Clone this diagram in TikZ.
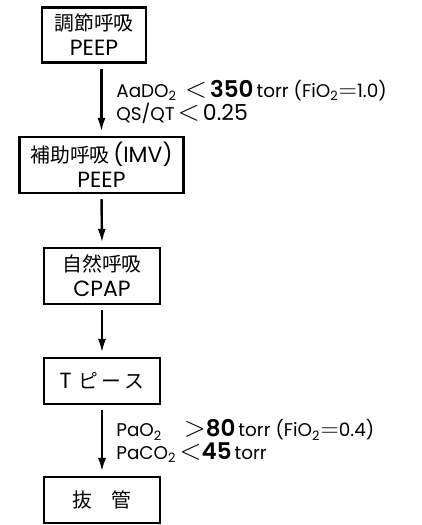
\documentclass[tikz,border=0pt]{standalone}
\usepackage{fontspec}
\setmainfont{Poppins}[BoldFont={Poppins SemiBold}]
\newfontfamily\jpfont[Scale=0.9]{Noto Sans CJK JP}
\usetikzlibrary{arrows.meta,positioning}
\begin{document}
\begin{tikzpicture}[
  x=0.5pt, y=-0.5pt,
  %===========================================================
  % Stage boxes
  %===========================================================
  stage/.style={
    rectangle,
    draw=black,
    line width=1.1pt,
    fill=white,
    align=center,
    inner sep=0pt,
    font=\fontsize{11}{12.5}\selectfont
  },
  %===========================================================
  % Arrows and conditions
  %===========================================================
  flow/.style={
    -{Latex[length=7pt,width=4pt]},
    draw=black,
    line width=1.2pt,
    shorten <=2.5pt,
    shorten >=2pt
  },
  cond/.style={
    font=\fontsize{9.2}{9.5}\selectfont,
    align=left,
    anchor=west,
    inner sep=0pt
  }
]
  \useasboundingbox (0,0) rectangle (422,525);

  %====================================================================
  % Weaning stages, top to bottom
  %====================================================================
  \node[stage, minimum width=52pt, minimum height=27.5pt] (ctrl) at (94, 35)
    {{\jpfont 調節呼吸}\\PEEP};
  \node[stage, minimum width=82pt, minimum height=28pt] (imv) at (101.5, 165)
    {{\jpfont 補助呼吸}\,(IMV)\\PEEP};
  \node[stage, minimum width=58pt, minimum height=28pt] (cpap) at (102, 276)
    {{\jpfont 自然呼吸}\\CPAP};
  \node[stage, minimum width=58pt, minimum height=23pt] (tpiece) at (102, 381)
    {T\,{\jpfont\,ピ\,ー\,ス}};
  \node[stage, minimum width=58pt, minimum height=23pt] (extub) at (102, 500)
    {{\jpfont 抜\quad 管}};

  %====================================================================
  % Transitions
  %====================================================================
  \draw[flow] (ctrl.south -| imv.north) -- (imv.north);
  \draw[flow] (imv.south) -- (cpap.north);
  \draw[flow] (cpap.south) -- (tpiece.north);
  \draw[flow] (tpiece.south) -- (extub.north);

  %====================================================================
  % Criteria next to the arrows
  %====================================================================
  \node[cond] (crit1) at (116, 102)
    {AaDO\textsubscript{2}\, {\Large$<$}\,{\fontsize{11.5}{10}\selectfont\bfseries 350}\,torr (FiO\textsubscript{2}{\large$=$}1.0)\\
     QS/QT\,{\Large$<$}\,{\fontsize{11}{10}\selectfont 0.25}};
  \node[cond] (crit2) at (116, 441)
    {PaO\textsubscript{2}\quad\,{\Large$>$}{\fontsize{11.5}{10}\selectfont\bfseries 80}\,torr (FiO\textsubscript{2}{\large$=$}0.4)\\
     PaCO\textsubscript{2}\,{\Large$<$}{\fontsize{11.5}{10}\selectfont\bfseries 45}\,torr};

\end{tikzpicture}
\end{document}
